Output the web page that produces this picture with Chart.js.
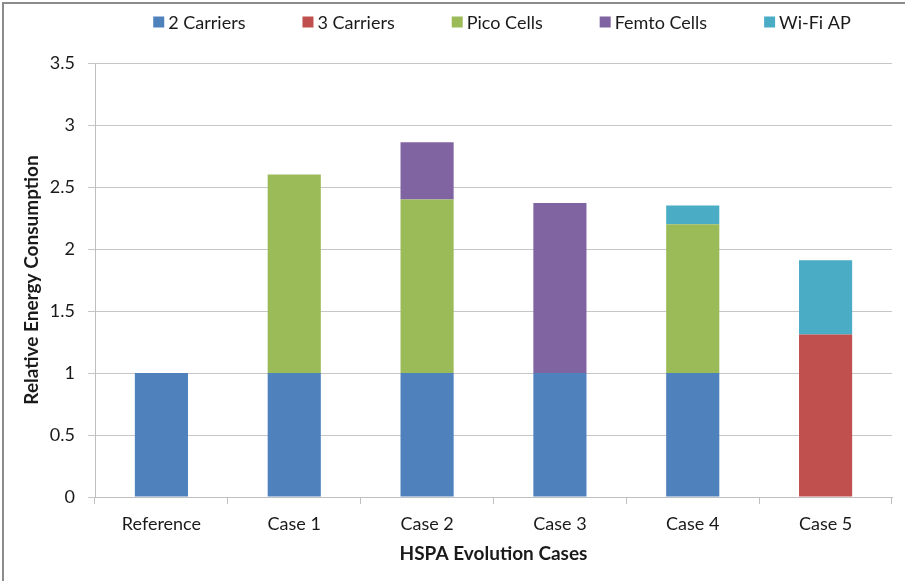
<!DOCTYPE html>
<html>
<head>
<meta charset="utf-8">
<script src="https://cdn.jsdelivr.net/npm/chart.js@4"></script>
<style>
  html, body { margin: 0; padding: 0; background: #fff; }
  #wrap { position: relative; width: 905px; height: 581px; }
</style>
</head>
<body>
<div id="wrap"><canvas id="myChart" width="905" height="581"></canvas></div>
<script>
let categories = ['Reference', 'Case 1', 'Case 2', 'Case 3', 'Case 4', 'Case 5'];
let twoCarriers = [1, 1, 1, 1, 1, null];
let threeCarriers = [null, null, null, null, null, 1.31];
let picoCells = [null, 1.6, 1.4, null, 1.2, null];
let femtoCells = [null, null, 0.46, 1.37, null, null];
let wifiAP = [null, null, null, null, 0.15, 0.6];
let yTicks = [0, 0.5, 1, 1.5, 2, 2.5, 3, 3.5];

let fontName = 'Lato';
let textColor = '#1a1a1a';

// frame lines + legend drawn by hand so the gaps match
let framePlugin = {
  id: 'frame',
  beforeDraw(chart) {
    let c = chart.ctx;
    c.save();
    c.fillStyle = '#fff';
    c.fillRect(0, 0, chart.width, chart.height);
    c.strokeStyle = '#8c8c8c';
    c.lineWidth = 2;
    c.beginPath();
    c.moveTo(3, chart.height);
    c.lineTo(3, 3);
    c.lineTo(chart.width, 3);
    c.stroke();
    c.restore();
  },
  afterDraw(chart) {
    let c = chart.ctx;
    c.save();
    c.font = '18px ' + fontName;
    c.textBaseline = 'middle';
    let gap = 57;
    let items = chart.data.datasets.map(ds => ({text: ds.label, color: ds.backgroundColor, w: 15 + c.measureText(ds.label).width}));
    let total = items.reduce((s, it) => s + it.w, 0) + gap * (items.length - 1);
    let x = 502 - total / 2;
    let y = 22;
    items.forEach(it => {
      c.fillStyle = it.color;
      c.fillRect(x, y - 5.5, 11, 11);
      c.fillStyle = textColor;
      c.fillText(it.text, x + 15, y + 1);
      x += it.w + gap;
    });
    c.restore();
  }
};

let canvas = document.getElementById('myChart');
let ctx = canvas.getContext('2d');

let myChart = new Chart(ctx, {
  type: 'bar',
  data: {
    labels: categories,
    datasets: [
      { label: '2 Carriers', data: twoCarriers, backgroundColor: '#4F81BD' },
      { label: '3 Carriers', data: threeCarriers, backgroundColor: '#C0504D' },
      { label: 'Pico Cells', data: picoCells, backgroundColor: '#9BBB59' },
      { label: 'Femto Cells', data: femtoCells, backgroundColor: '#8064A2' },
      { label: 'Wi-Fi AP', data: wifiAP, backgroundColor: '#4BACC6' }
    ]
  },
  options: {
    responsive: false,
    animation: false,
    devicePixelRatio: 1,
    datasets: {
      bar: { barPercentage: 0.4, categoryPercentage: 1, borderWidth: 0 }
    },
    layout: { padding: { top: 63, right: 13, bottom: 0, left: 0 } },
    plugins: {
      legend: { display: false },
      tooltip: { enabled: false }
    },
    scales: {
      x: {
        stacked: true,
        offset: true,
        grid: { display: true, offset: true, drawOnChartArea: false, drawTicks: true, tickLength: 7, color: '#bfbfbf' },
        border: { display: true, color: '#bfbfbf' },
        ticks: { color: textColor, font: { family: fontName, size: 18 }, padding: 9, maxRotation: 0 },
        title: { display: true, text: 'HSPA Evolution Cases', color: textColor, font: { family: fontName, size: 19, weight: 'bold' }, padding: { top: 0, bottom: 16 } },
        afterFit(scale) { scale.height = 84; }
      },
      y: {
        stacked: true,
        min: 0,
        max: 3.5,
        afterBuildTicks(scale) { scale.ticks = yTicks.map(v => ({ value: v })); },
        grid: { color: '#c6c6c6', drawTicks: true, tickLength: 7 },
        border: { display: true, color: '#bfbfbf' },
        ticks: { color: textColor, font: { family: fontName, size: 18 }, padding: 13, callback: v => String(v) },
        title: { display: true, text: 'Relative Energy Consumption', color: textColor, font: { family: fontName, size: 19, weight: 'bold' }, padding: { top: 20, bottom: 0 } },
        afterFit(scale) { scale.width = 95; }
      }
    }
  },
  plugins: [framePlugin]
});
</script>
</body>
</html>
